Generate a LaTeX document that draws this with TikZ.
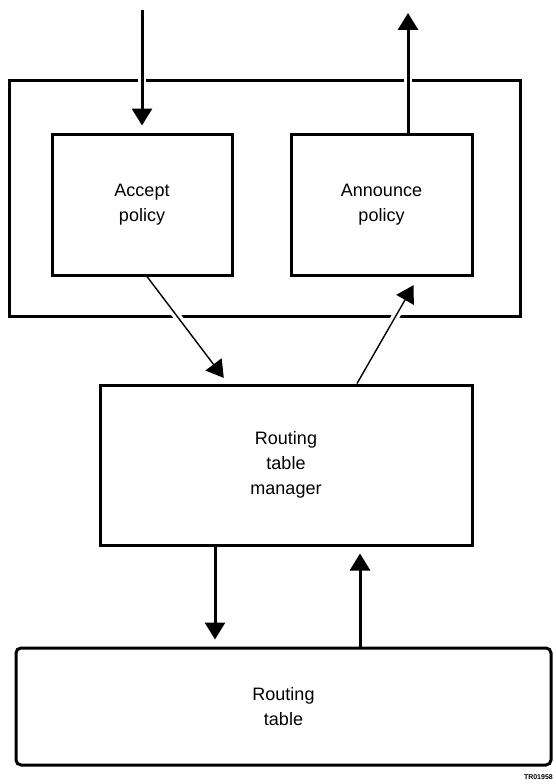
\documentclass[tikz,border=0pt]{standalone}
\usepackage{fontspec}
\setmainfont{Liberation Sans}
\usepackage{tikz}
\usetikzlibrary{arrows.meta}
\usetikzlibrary{positioning}
\pgfdeclarelayer{back}
\pgfdeclarelayer{links}
\pgfsetlayers{back,links,main}
\tikzset{box/.style={draw, line width=3pt, shape=rectangle, align=center, font=\fontsize{18}{25}\selectfont}}
\tikzset{flow/.style={line width=3pt, -{Triangle[width=20pt, length=17pt]}}}
\tikzset{thinflow/.style={line width=1.4pt, -{Triangle[width=20pt, length=17pt]}}}
\tikzset{halo/.style={preaction={draw=white, line width=8pt, -}}}

\begin{document}
\begin{tikzpicture}[x=1pt, y=-1pt]
	\useasboundingbox (0,0) rectangle (555,784);

	% POLICY FRAME
	\begin{pgfonlayer}{back}
		\node[box, minimum width=510.5pt, minimum height=236pt] (frame) at (264.75,198) {};
	\end{pgfonlayer}
	\node[box, minimum width=180pt, minimum height=141pt] (accept) at (142,204.5) {Accept\\policy};
	\node[box, minimum width=181pt, minimum height=141pt] (announce) at (381.5,204.5) {Announce\\policy};

	% MANAGER
	\node[box, minimum width=372pt, minimum height=160pt] (manager) at (286,465) {Routing\\table\\manager};

	% TABLE
	\node[box, rounded corners=5pt, minimum width=535pt, minimum height=117pt] (table) at (283.5,706.5) {Routing\\table};

	\node[font=\fontsize{7}{8}\selectfont\bfseries, anchor=east, inner sep=0pt] (figid) at (553,777) {TR01958};

	% free ends
	\coordinate (inlet) at (142,10);
	\coordinate (outlet) at (408,13);

	% Connectors
	\begin{pgfonlayer}{links}
		\draw[flow, halo, shorten >=7pt] (inlet) -- (accept);
		\draw[flow, halo] (announce.north -| outlet) -- (outlet);

		\draw[thinflow, halo, shorten >=7pt] ([xshift=5pt]accept.south) -- ([xshift=-58pt]manager.north);
		\draw[thinflow, halo, shorten >=10pt] ([xshift=71pt]manager.north) -- ([xshift=37pt]announce.south);

		\draw[flow, shorten >=7pt] ([xshift=-71pt]manager.south) -- ([xshift=-71pt]manager.south |- table.north);
		\draw[flow, shorten >=7pt] ([xshift=74pt]manager.south |- table.north) -- ([xshift=74pt]manager.south);
	\end{pgfonlayer}
\end{tikzpicture}
\end{document}
